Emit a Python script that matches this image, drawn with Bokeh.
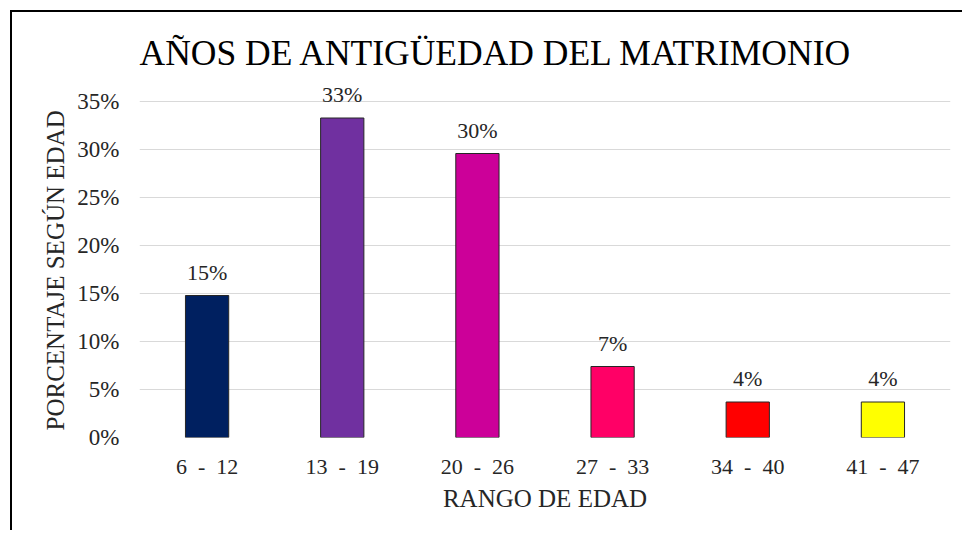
from bokeh.plotting import figure
from bokeh.models import ColumnDataSource, Range1d, NumeralTickFormatter, FixedTicker, LabelSet, Title
from bokeh.embed import file_html
from bokeh.resources import INLINE

categories = ["6\u00a0\u00a0-\u00a0\u00a012", "13\u00a0\u00a0-\u00a0\u00a019", "20\u00a0\u00a0-\u00a0\u00a026",
              "27\u00a0\u00a0-\u00a0\u00a033", "34\u00a0\u00a0-\u00a0\u00a040", "41\u00a0\u00a0-\u00a0\u00a047"]
values = [0.148, 0.333, 0.296, 0.074, 0.037, 0.037]
labels = ["15%", "33%", "30%", "7%", "4%", "4%"]
colors = ["#002060", "#7030A0", "#CC0099", "#FF0066", "#FF0000", "#FFFF00"]
y_ticks = [0, 0.05, 0.10, 0.15, 0.20, 0.25, 0.30, 0.35]

FONT = "Times New Roman, Liberation Serif, serif"

src = ColumnDataSource(dict(cat=categories, val=values, lab=labels, col=colors))

p = figure(x_range=categories, y_range=Range1d(0, 0.37), width=952, height=520,
           output_backend="svg", toolbar_location=None,
           min_border_left=127, min_border_right=14, min_border_top=70, min_border_bottom=95)
p.styles = {"border-left": "2px solid black", "border-top": "2px solid black",
            "margin-left": "10px", "margin-top": "10px"}

p.vbar(x="cat", top="val", width=0.32, source=src, fill_color="col",
       line_color="#262626", line_width=1)

p.add_layout(LabelSet(x="cat", y="val", text="lab", source=src, text_align="center",
                      text_baseline="bottom", y_offset=11, text_font=FONT,
                      text_font_size="22px", text_color="#262626"))

p.title.text = "AÑOS DE ANTIGÜEDAD DEL MATRIMONIO"
p.title.text_font = FONT
p.title.text_font_size = "35.5px"
p.title.text_font_style = "normal"
p.title.text_color = "#000000"
p.title.align = "left"
p.title.standoff = 20

p.outline_line_color = None
p.xgrid.grid_line_color = None
p.ygrid.grid_line_color = "#d9d9d9"
p.ygrid.grid_line_width = 1

p.yaxis.ticker = FixedTicker(ticks=y_ticks)
p.yaxis.formatter = NumeralTickFormatter(format="0%")
for ax in (p.xaxis[0], p.yaxis[0]):
    ax.axis_line_color = None
    ax.major_tick_line_color = None
    ax.minor_tick_line_color = None
    ax.major_label_text_font = FONT
    ax.major_label_text_color = "#262626"
    ax.axis_label_text_font = FONT
    ax.axis_label_text_font_size = "25px"
    ax.axis_label_text_font_style = "normal"
    ax.axis_label_text_color = "#262626"

p.yaxis.major_label_text_font_size = "23px"
p.xaxis.major_label_text_font_size = "22px"
p.xaxis.axis_label = "RANGO DE EDAD"
p.xaxis.major_label_standoff = 10
p.yaxis.major_label_standoff = 14
p.xaxis.axis_label_standoff = 3

ytitle = Title(text="PORCENTAJE SEGÚN EDAD", align="left", offset=7,
               text_font=FONT, text_font_size="25px", text_font_style="normal",
               text_color="#262626", standoff=12)
p.add_layout(ytitle, "left")

open("out.html", "w").write(file_html(p, INLINE))
